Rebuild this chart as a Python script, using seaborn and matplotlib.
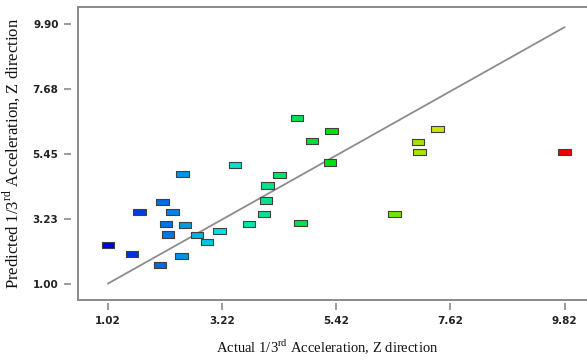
import seaborn as sns
import matplotlib.pyplot as plt
import pandas as pd
from matplotlib.colors import LinearSegmentedColormap

# actual vs predicted 1/3rd acceleration, Z direction
actual = [1.02, 1.49, 1.63, 2.03, 2.07, 2.14, 2.18, 2.27, 2.44, 2.46,
          2.51, 2.74, 2.93, 3.17, 3.47, 3.74, 4.03, 4.07, 4.10, 4.33,
          4.66, 4.73, 4.95, 5.30, 5.33, 6.54, 7.00, 7.02, 7.37, 9.82]
predicted = [2.34, 2.01, 3.45, 1.63, 3.81, 3.05, 2.69, 3.47, 1.96, 4.75,
             3.00, 2.67, 2.42, 2.80, 5.08, 3.05, 3.40, 3.85, 4.37, 4.72,
             6.67, 3.07, 5.89, 5.16, 6.23, 3.38, 5.87, 5.53, 6.30, 5.53]

# reference line
line_x = [1.02, 9.82]
line_y = [1.00, 9.80]

xticks = [1.02, 3.22, 5.42, 7.62, 9.82]
yticks = [1.00, 3.23, 5.45, 7.68, 9.90]

df = pd.DataFrame({'actual': actual, 'predicted': predicted})

sns.set_style('white')
plt.rcParams['mathtext.fontset'] = 'custom'
plt.rcParams['mathtext.rm'] = 'Liberation Serif'

cmap = LinearSegmentedColormap.from_list(
    'de', ['#0000e6', '#00e6e6', '#00e000', '#e6e600', '#ee0000'])

fig = plt.figure(figsize=(5.87, 3.6), dpi=100)
ax = fig.add_axes([78 / 587, 60 / 360, 1 - 78 / 587, (300 - 7.3) / 360])

ax.plot(line_x, line_y, color='#8c8c8c', lw=1.3, zorder=1)

rect = [(-1, -0.5), (1, -0.5), (1, 0.5), (-1, 0.5), (-1, -0.5)]
sns.scatterplot(data=df, x='actual', y='predicted', hue='actual',
                palette=cmap, hue_norm=(1.02, 9.82), marker=rect, s=80,
                edgecolor='#404040', linewidth=0.8, legend=False, ax=ax,
                zorder=3)

ax.set_xlim(0.446, 10.25)
ax.set_ylim(0.44, 10.48)

# frame drawn by hand, spines pushed out so the ticks float like Design-Expert
for s in ['left', 'bottom', 'top', 'right']:
    ax.spines[s].set_visible(False)
ax.spines['left'].set_position(('outward', 5))
ax.spines['bottom'].set_position(('outward', 2.5))
fr = dict(color='#8a8a8a', lw=1.4, transform=ax.transAxes, clip_on=False)
ax.plot([0, 0], [0, 1], **fr)
ax.plot([0, 1], [0, 0], **fr)
ax.plot([0, 1], [1, 1], **fr)

ax.set_xticks(xticks)
ax.set_xticklabels([f'{v:.2f}' for v in xticks])
ax.set_yticks(yticks)
ax.set_yticklabels([f'{v:.2f}' for v in yticks])
ax.tick_params(axis='both', direction='out', length=5, width=1.2,
               color='#8a8a8a', labelsize=7.5, pad=4,
               bottom=True, left=True, top=False, right=False)
for lab in ax.get_xticklabels() + ax.get_yticklabels():
    lab.set_fontweight('bold')
    lab.set_color('#222222')

ax.set_xlabel(r'Actual 1/3$^{\mathrm{rd}}$ Acceleration, Z direction',
              fontsize=10.5, family='Liberation Serif', color='#111111')
ax.set_ylabel(r'Predicted 1/3$^{\mathrm{rd}}$ Acceleration, Z direction',
              fontsize=12, family='Liberation Serif', color='#111111')
ax.xaxis.set_label_coords(0.49, -0.127)
ax.yaxis.set_label_coords(-0.108, 0.5)
ax.grid(False)

fig.savefig('out.png', dpi=100)
